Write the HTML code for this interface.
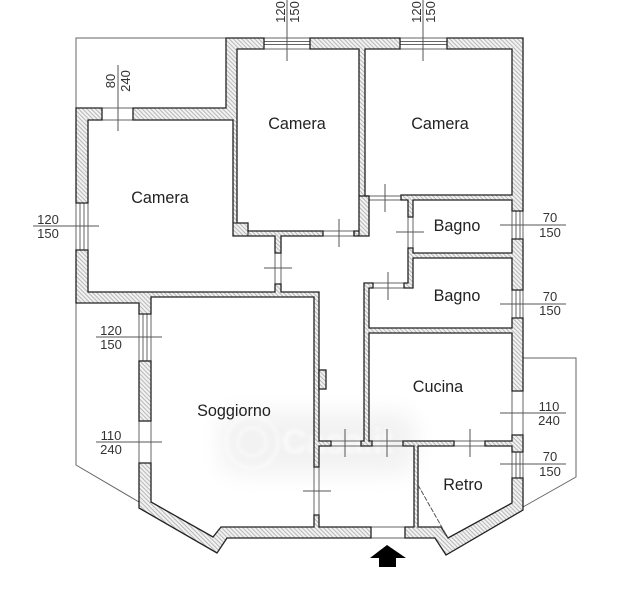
<!DOCTYPE html>
<html><head><meta charset="utf-8">
<style>
html,body{margin:0;padding:0;background:#fff;width:635px;height:600px;overflow:hidden}
svg{display:block;position:absolute;left:0;top:0}
text{font-family:"Liberation Sans",sans-serif;fill:#222}
.l{font-size:16.2px;text-anchor:middle}
.d{font-size:13px;text-anchor:middle;fill:#333}
.w{fill:url(#h);stroke:#222;stroke-width:1.3;stroke-linejoin:miter}
.t{stroke:#666;stroke-width:1;fill:none}
.n{stroke:#555;stroke-width:1;fill:none}
.o{stroke:#666;stroke-width:1;fill:none}
</style></head><body>
<svg width="635" height="600" viewBox="0 0 635 600" xmlns="http://www.w3.org/2000/svg">
<defs>
<pattern id="h" width="3" height="3" patternUnits="userSpaceOnUse" patternTransform="rotate(45)">
<rect width="3" height="3" fill="#f2f2f2"/><rect width="3" height="1" fill="#b8b8b8"/>
</pattern>
<filter id="b" x="-20%" y="-40%" width="140%" height="180%"><feGaussianBlur stdDeviation="11"/></filter>
<filter id="b2"><feGaussianBlur stdDeviation="1.5"/></filter>
<filter id="s"><feGaussianBlur stdDeviation="0.3"/></filter>
</defs>

<!-- watermark -->
<rect x="220" y="412" width="195" height="62" rx="18" fill="#f2f2f2" filter="url(#b)"/>
<g filter="url(#b2)" fill="none" stroke="#fff" stroke-width="3" opacity=".55">
<circle cx="252" cy="442" r="26"/><circle cx="252" cy="442" r="14"/>
</g>
<text x="282" y="453" filter="url(#b2)" style="font-size:34px;fill:#fff;font-weight:bold" opacity=".6">Casa.it</text>

<g filter="url(#s)">
<!-- terrace outlines -->
<path class="o" d="M226 38H76V108M76 303V465L139 502M523 358H576V477L523 507"/>

<!-- windows -->
<g class="t">
<path d="M264 38H310M264 41.500H310M264 44.500H310M264 49H310"/>
<path d="M400 38H447M400 41.500H447M400 44.500H447M400 49H447"/>
<path d="M102 108H133M102 120H133M102 108V120M133 108V120"/>
<path d="M76 203V250M80 203V250M84 203V250M88 203V250"/>
<path d="M139 314V361M143 314V361M147 314V361M151 314V361"/>
<path d="M139 421V463M151 421V463"/>
<path d="M512 211V239M516 211V239M520 211V239M523 211V239"/>
<path d="M512 290V318M516 290V318M520 290V318M523 290V318"/>
<path d="M512 391V435M523 391V435"/>
<path d="M512 452V478M516 452V478M520 452V478M523 452V478"/>
<path d="M371 527H405M371 538H405"/>
<!-- door openings -->
<path d="M323 231H354M323 236H354"/>
<path d="M275 253V284M281 253V284"/>
<path d="M369 196H401M369 200H401"/>
<path d="M408 217V248M413 217V248"/>
<path d="M373 283H404M373 288H404"/>
<path d="M331 441H361M331 446H361"/>
<path d="M372 441H403M372 446H403"/>
<path d="M454 441H485M454 446H485"/>
<path d="M314 467V515M319 467V515"/>
</g>

<!-- walls -->
<polygon class="w" points="133,108 226,108 226,38 264,38 264,49 237,49 237,223 248,223 248,231 323,231 323,236 281,236 281,253 275,253 275,236 233,236 233,120 133,120"/>
<polygon class="w" points="76,108 102,108 102,120 88,120 88,203 76,203"/>
<polygon class="w" points="76,250 88,250 88,292 275,292 275,284 281,284 281,292 319,292 319,441 331,441 331,446 319,446 319,467 314,467 314,297 151,297 151,314 139,314 139,303 76,303"/>
<rect class="w" x="139" y="361" width="12" height="60"/>
<polygon class="w" points="139,463 151,463 151,502 213,537 221,527 314,527 314,515 319,515 319,527 371,527 371,538 227,538 217,553 139,508"/>
<polygon class="w" points="405,527 414,527 414,446 403,446 403,441 454,441 454,446 418,446 418,527 441,527 448,538 512,503 512,478 523,478 523,510 446,555 435,538 405,538"/>
<polygon class="w" points="310,38 400,38 400,49 365,49 365,196 369,196 369,236 354,236 354,231 359,231 359,49 310,49"/>
<polygon class="w" points="447,38 523,38 523,211 512,211 512,200 413,200 413,217 408,217 408,200 401,200 401,195 512,195 512,49 447,49"/>
<polygon class="w" points="408,248 413,248 413,253 512,253 512,239 523,239 523,290 512,290 512,258 413,258 413,288 404,288 404,283 408,283"/>
<polygon class="w" points="364,283 373,283 373,288 369,288 369,328 512,328 512,318 523,318 523,391 512,391 512,333 369,333 369,441 372,441 372,446 361,446 361,441 364,441"/>
<polygon class="w" points="485,441 512,441 512,435 523,435 523,452 512,452 512,446 485,446"/>
<rect class="w" x="319" y="370" width="7" height="19"/>
<path d="M359 196H369M354 231V236M359 231V236" stroke="#222" stroke-width="1.200" fill="none"/>
<path d="M233 223H237M248 223V236" stroke="#222" stroke-width="1" fill="none"/>

<!-- retro door -->
<path d="M418 485L448 538" stroke="#555" stroke-width="1" stroke-dasharray="5 1.500" fill="none"/>

<!-- dimension lines -->
<g class="n">
<path d="M287 0V61M423 0V61M118 65V131"/>
<path d="M33 226H99M96 337H162M96 442H162"/>
<path d="M500 225H566M500 304H566M500 413H566M500 464H566"/>
<path d="M339 219V247M264 268H292M385 184V212M396 232H424M388 272V300"/>
<path d="M345 429V457M387 429V457M470 429V457M303 491H331"/>
</g>

<!-- entry arrow -->
<polygon points="387,545 406,558 396,558 396,567 379,567 379,558 370,558" fill="#000"/>
</g>

<!-- dimension text -->
<text class="d" transform="translate(285,12) rotate(-90)">120</text>
<text class="d" transform="translate(299,12) rotate(-90)">150</text>
<text class="d" transform="translate(421,12) rotate(-90)">120</text>
<text class="d" transform="translate(435,12) rotate(-90)">150</text>
<text class="d" transform="translate(115,81) rotate(-90)">80</text>
<text class="d" transform="translate(130,81) rotate(-90)">240</text>
<text class="d" x="48" y="224">120</text><text class="d" x="48" y="238">150</text>
<text class="d" x="111" y="335">120</text><text class="d" x="111" y="349">150</text>
<text class="d" x="111" y="440">110</text><text class="d" x="111" y="454">240</text>
<text class="d" x="550" y="222">70</text><text class="d" x="550" y="237">150</text>
<text class="d" x="550" y="301">70</text><text class="d" x="550" y="315">150</text>
<text class="d" x="549" y="411">110</text><text class="d" x="549" y="425">240</text>
<text class="d" x="550" y="461">70</text><text class="d" x="550" y="476">150</text>

<!-- room labels -->
<text class="l" x="297" y="129">Camera</text>
<text class="l" x="440" y="129">Camera</text>
<text class="l" x="160" y="203">Camera</text>
<text class="l" x="457" y="231">Bagno</text>
<text class="l" x="457" y="301">Bagno</text>
<text class="l" x="438" y="392">Cucina</text>
<text class="l" x="463" y="490">Retro</text>
<text class="l" x="234" y="416">Soggiorno</text>
</svg>
</body></html>
